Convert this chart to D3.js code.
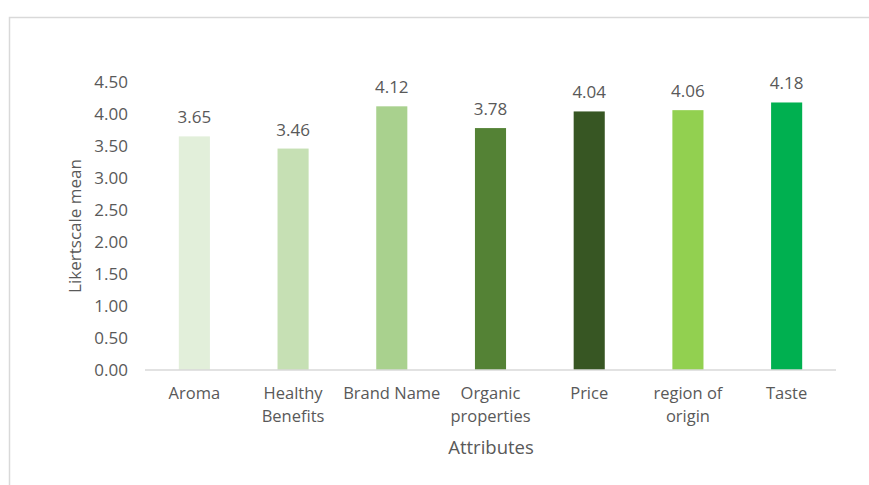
<!DOCTYPE html>
<html><head><meta charset="utf-8">
<script src="https://cdn.jsdelivr.net/npm/d3@7"></script>
<style>body{margin:0;background:#fff;}svg{display:block;font-family:"Open Sans","Liberation Sans",sans-serif;}</style>
</head><body>
<svg id="c" width="869" height="485"></svg>
<script>
const categories = ["Aroma", "Healthy Benefits", "Brand Name", "Organic properties", "Price", "region of origin", "Taste"];
const categoryLines = [["Aroma"], ["Healthy", "Benefits"], ["Brand Name"], ["Organic", "properties"], ["Price"], ["region of", "origin"], ["Taste"]];
const values = [3.65, 3.46, 4.12, 3.78, 4.04, 4.06, 4.18];
const colors = ["#E2EFDA", "#C6E0B4", "#A9D18E", "#548235", "#375623", "#92D050", "#00B050"];
const yTicks = [0, 0.5, 1, 1.5, 2, 2.5, 3, 3.5, 4, 4.5];
const xTitle = "Attributes";
const yTitle = "Likertscale mean";

const svg = d3.select("#c");
const txt = "#595959";
// chart border
svg.append("rect").attr("x", 9.5).attr("y", 17.5).attr("width", 870).attr("height", 480)
  .attr("fill", "none").attr("stroke", "#d9d9d9").attr("stroke-width", 1.5);

const x = d3.scaleBand().domain(categories).range([145, 836]).paddingInner(0.685).paddingOuter(0.3425);
const y = d3.scaleLinear().domain([0, 4.5]).range([370, 82]);

// bars
svg.selectAll("rect.bar").data(values).enter().append("rect").attr("class", "bar")
  .attr("x", (d, i) => x(categories[i])).attr("width", x.bandwidth())
  .attr("y", d => y(d)).attr("height", d => y(0) - y(d))
  .attr("fill", (d, i) => colors[i]);

// value labels
svg.selectAll("text.val").data(values).enter().append("text").attr("class", "val")
  .attr("x", (d, i) => x(categories[i]) + x.bandwidth() / 2)
  .attr("y", d => y(d) - 13)
  .attr("text-anchor", "middle").attr("fill", txt).attr("font-size", 17)
  .text(d => d.toFixed(2));

// y axis
const yAxis = d3.axisLeft(y).tickValues(yTicks).tickFormat(d3.format(".2f")).tickSize(0).tickPadding(0);
const gy = svg.append("g").attr("transform", "translate(128,0)").call(yAxis);
gy.select(".domain").remove();
gy.selectAll("text").attr("fill", txt).attr("font-size", 17).attr("font-family", "Open Sans, Liberation Sans, sans-serif");

// x axis
const xAxis = d3.axisBottom(x).tickSize(0).tickFormat("");
const gx = svg.append("g").attr("transform", `translate(0,${y(0)})`).call(xAxis);
gx.select(".domain").attr("stroke", "#d9d9d9").attr("stroke-width", 1.5).attr("d", "M145,0H836");

const cl = svg.append("g");
categories.forEach((c, i) => {
  const t = cl.append("text").attr("x", x(c) + x.bandwidth() / 2).attr("y", 399)
    .attr("text-anchor", "middle").attr("fill", txt).attr("font-size", 16.5);
  categoryLines[i].forEach((l, j) => t.append("tspan").attr("x", x(c) + x.bandwidth() / 2).attr("dy", j ? 23 : 0).text(l));
});

svg.append("text").attr("x", 491).attr("y", 454).attr("text-anchor", "middle").attr("fill", txt)
  .attr("font-size", 18.5).text(xTitle);
svg.append("text").attr("transform", "translate(81,226) rotate(-90)").attr("text-anchor", "middle")
  .attr("fill", txt).attr("font-size", 17).text(yTitle);
</script>
</body></html>
